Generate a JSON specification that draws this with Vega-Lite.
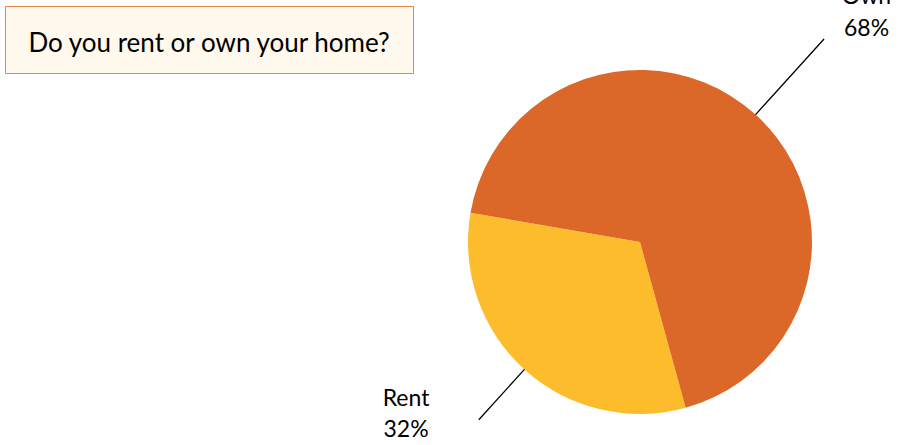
{
  "$schema": "https://vega.github.io/schema/vega-lite/v6.json",
  "width": 528,
  "height": 406,
  "autosize": {"type": "none"},
  "padding": {"left": 376, "top": 39, "right": 2, "bottom": 0},
  "background": "white",
  "config": {"view": {"stroke": null}},
  "data": {"values": [
    {"answer": "Rent", "value": 32},
    {"answer": "Own", "value": 68}
  ]},
  "transform": [
    {"stack": "value", "groupby": [], "sort": [{"field": "answer", "order": "descending"}], "as": ["v0", "v1"]},
    {"calculate": "(datum.v0 + datum.v1) / 2", "as": "mid"},
    {"calculate": "datum.answer + '\\n' + datum.value + '%'", "as": "label"}
  ],
  "layer": [
    {
      "mark": {"type": "arc", "radius": 172},
      "encoding": {
        "theta": {"field": "v0", "type": "quantitative", "stack": null, "scale": {"domain": [0, 100], "range": [2.8728, 9.156]}},
        "theta2": {"field": "v1"},
        "color": {
          "field": "answer", "type": "nominal",
          "scale": {"domain": ["Own", "Rent"], "range": ["#DB6828", "#FDBC2C"]},
          "legend": {
            "orient": "none", "legendX": -371, "legendY": -33,
            "title": "Do you rent or own your home?",
            "titleFont": "Lato", "titleFontSize": 26, "titleFontWeight": "normal", "titleColor": "#000000",
            "titleLimit": 1000, "titlePadding": 2, "titleOrient": "bottom", "titleAnchor": "middle",
            "fillColor": "#FEF8ED", "strokeColor": "#E8874C", "padding": 16,
            "symbolSize": 49, "symbolOpacity": 0, "symbolStrokeWidth": 0,
            "labelExpr": "''", "labelFontSize": 1, "labelOpacity": 0, "labelOffset": 0,
            "direction": "horizontal", "rowPadding": 0, "columnPadding": 362
          }
        }
      }
    },
    {
      "transform": [{"filter": "datum.answer === 'Own'"}],
      "mark": {"type": "arc", "radius": 274, "radius2": 172, "stroke": "#000000", "strokeWidth": 1.3, "fill": null},
      "encoding": {
        "theta": {"field": "mid", "type": "quantitative", "stack": null, "scale": {"domain": [0, 100], "range": [2.8728, 9.156]}},
        "theta2": {"field": "mid"}
      }
    },
    {
      "transform": [{"filter": "datum.answer === 'Rent'"}],
      "mark": {"type": "arc", "radius": 240, "radius2": 172, "stroke": "#000000", "strokeWidth": 1.3, "fill": null},
      "encoding": {
        "theta": {"field": "mid", "type": "quantitative", "stack": null, "scale": {"domain": [0, 100], "range": [2.8728, 9.156]}},
        "theta2": {"field": "mid"}
      }
    },
    {
      "transform": [{"filter": "datum.answer === 'Own'"}],
      "mark": {"type": "text", "radius": 300, "dx": 25, "dy": -16, "align": "center", "baseline": "alphabetic", "lineBreak": "\n", "lineHeight": 32, "font": "Lato", "fontSize": 23, "color": "#000000"},
      "encoding": {
        "theta": {"field": "mid", "type": "quantitative", "stack": null, "scale": {"domain": [0, 100], "range": [2.8728, 9.156]}},
        "text": {"field": "label"}
      }
    },
    {
      "transform": [{"filter": "datum.answer === 'Rent'"}],
      "mark": {"type": "text", "radius": 250, "dx": -66, "dy": -21, "align": "center", "baseline": "alphabetic", "lineBreak": "\n", "lineHeight": 31, "font": "Lato", "fontSize": 23, "color": "#000000"},
      "encoding": {
        "theta": {"field": "mid", "type": "quantitative", "stack": null, "scale": {"domain": [0, 100], "range": [2.8728, 9.156]}},
        "text": {"field": "label"}
      }
    }
  ]
}
